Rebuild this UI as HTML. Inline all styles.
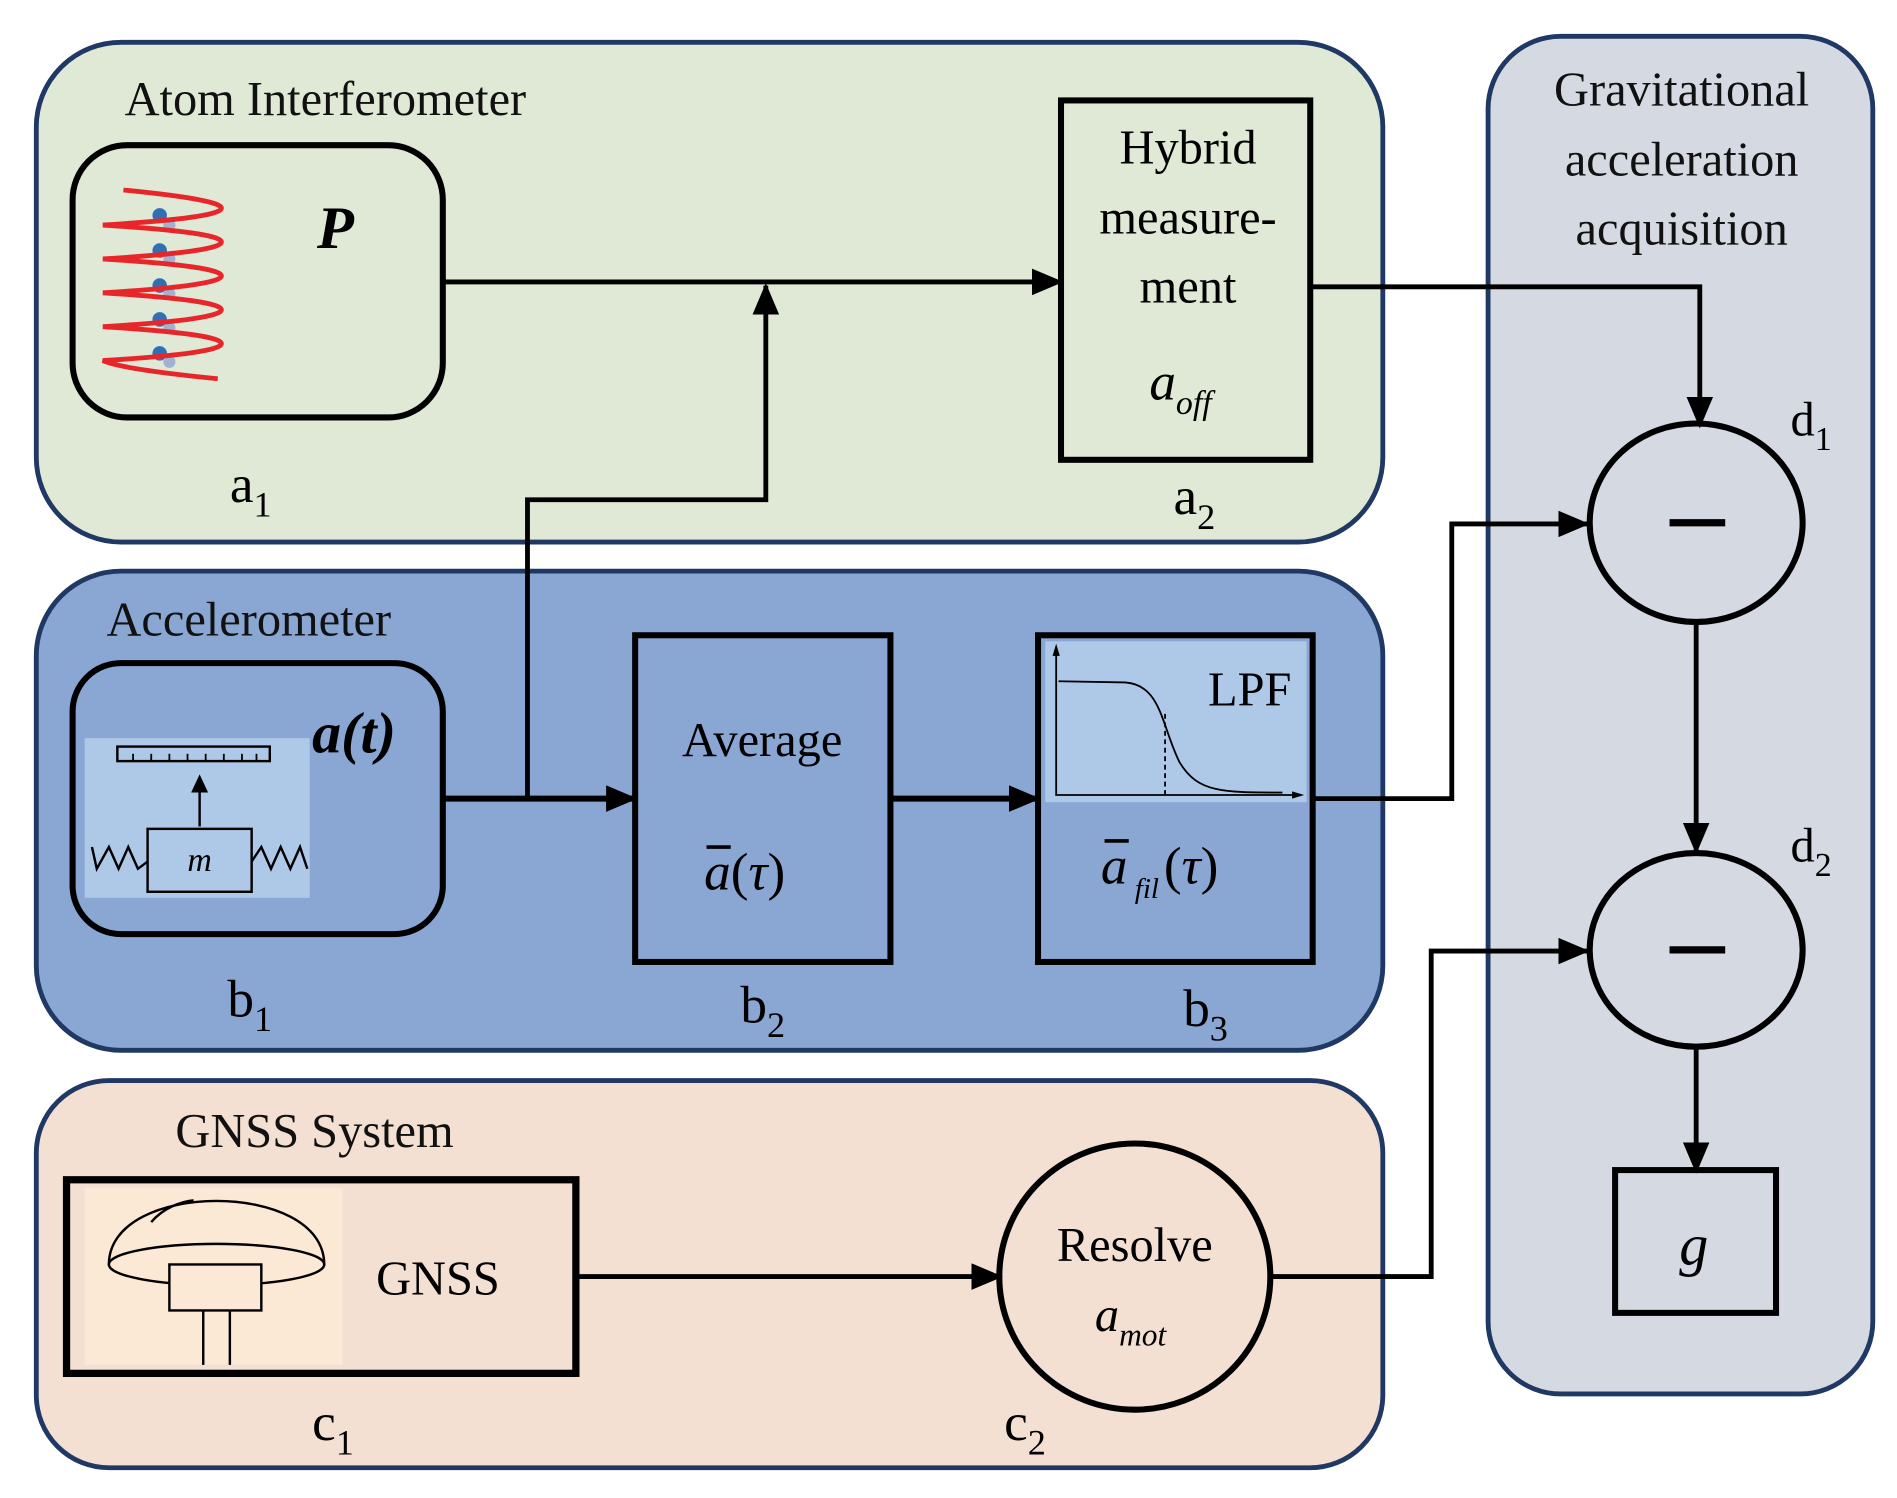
<!DOCTYPE html>
<html><head><meta charset="utf-8"><style>html,body{margin:0;padding:0;background:#fff}svg{display:block}svg text{font-family:"Liberation Serif","Times New Roman","DejaVu Serif",serif}</style></head>
<body>
<svg width="1897" height="1498" viewBox="0 0 1568 1238" preserveAspectRatio="none" xmlns="http://www.w3.org/2000/svg" font-family="'Liberation Serif','DejaVu Serif',serif">
<defs>
<marker id="ab" markerWidth="26" markerHeight="22" refX="24" refY="11" orient="auto" markerUnits="userSpaceOnUse" viewBox="0 0 26 22">
<path d="M0,0 L26,11 L0,22 z" fill="#000"/></marker>
</defs>
<rect x="30" y="35" width="1113" height="413" rx="70" fill="#dfe9d6" stroke="#1f3864" stroke-width="4"/>
<rect x="30" y="472" width="1113" height="396" rx="70" fill="#8aa6d3" stroke="#1f3864" stroke-width="4"/>
<rect x="30" y="893" width="1113" height="320" rx="60" fill="#f4e0d2" stroke="#1f3864" stroke-width="4"/>
<rect x="1230" y="30" width="318" height="1122" rx="60" fill="#d5dae2" stroke="#1f3864" stroke-width="4"/>

<g font-size="40" fill="#111">
<text x="103" y="95">Atom Interferometer</text>
<text x="88" y="525">Accelerometer</text>
<text x="145" y="948">GNSS System</text>
<text x="1390" y="87" text-anchor="middle">Gravitational</text>
<text x="1390" y="145" text-anchor="middle">acceleration</text>
<text x="1390" y="202" text-anchor="middle">acquisition</text>
</g>

<rect x="60" y="120" width="306" height="225" rx="45" fill="none" stroke="#000" stroke-width="5"/>
<g fill="#2f6fb5"><circle cx="132" cy="178" r="6"/><circle cx="132" cy="207" r="6"/><circle cx="132" cy="236" r="6"/><circle cx="132" cy="264" r="6"/><circle cx="132" cy="292" r="6"/></g>
<g fill="#9fb2cf"><circle cx="140" cy="186" r="5"/><circle cx="140" cy="214" r="5"/><circle cx="140" cy="243" r="5"/><circle cx="140" cy="271" r="5"/><circle cx="140" cy="299" r="5"/></g>
<path d="M102,157 Q183,165 183,172 Q183,180 85,186 Q183,192 183,200 Q183,208 85,214 Q183,220 183,228 Q183,236 85,242 Q183,248 183,256 Q183,264 85,270 Q183,276 183,284 Q183,292 85,298 Q100,305 180,313" fill="none" stroke="#e8262a" stroke-width="4"/>
<text x="262" y="205" font-size="50" font-weight="bold" font-style="italic">P</text>
<text x="190" y="415" font-size="44">a<tspan font-size="30" dy="12">1</tspan></text>

<rect x="877" y="83" width="206" height="297" fill="none" stroke="#000" stroke-width="5"/>
<g font-size="40" text-anchor="middle"><text x="982" y="135">Hybrid</text><text x="982" y="193">measure-</text><text x="982" y="250">ment</text></g>
<text x="950" y="330" font-size="44" font-style="italic">a<tspan font-size="28" dy="12">off</tspan></text>
<text x="970" y="425" font-size="44">a<tspan font-size="30" dy="12">2</tspan></text>

<line x1="366" y1="233" x2="877" y2="233" stroke="#000" stroke-width="4" marker-end="url(#ab)"/>
<polyline points="436,660 436,413 633,413 633,236" fill="none" stroke="#000" stroke-width="4" marker-end="url(#ab)"/>
<polyline points="1083,237 1405,237 1405,352" fill="none" stroke="#000" stroke-width="4" marker-end="url(#ab)"/>

<rect x="60" y="548" width="306" height="224" rx="40" fill="none" stroke="#000" stroke-width="5"/>
<rect x="70" y="610" width="186" height="132" fill="#aec8e8"/>
<rect x="97" y="617" width="126" height="12" fill="none" stroke="#000" stroke-width="2"/>
<g stroke="#000" stroke-width="1.5"><line x1="110" y1="623" x2="110" y2="629"/><line x1="125" y1="623" x2="125" y2="629"/><line x1="140" y1="623" x2="140" y2="629"/><line x1="155" y1="623" x2="155" y2="629"/><line x1="170" y1="623" x2="170" y2="629"/><line x1="185" y1="623" x2="185" y2="629"/><line x1="200" y1="623" x2="200" y2="629"/><line x1="212" y1="623" x2="212" y2="629"/></g>
<line x1="165" y1="683" x2="165" y2="645" stroke="#000" stroke-width="2"/>
<path d="M158,655 L165,640 L172,655 z"/>
<rect x="122" y="685" width="86" height="52" fill="none" stroke="#000" stroke-width="2"/>
<text x="165" y="720" font-size="28" font-style="italic" text-anchor="middle">m</text>
<polyline points="76,700 80,718 90,700 98,718 106,700 114,718 122,712" fill="none" stroke="#000" stroke-width="2"/>
<polyline points="208,712 216,700 224,718 232,700 240,718 248,700 254,718" fill="none" stroke="#000" stroke-width="2"/>
<text x="258" y="622" font-size="48" font-weight="bold" font-style="italic">a(t)</text>
<text x="188" y="840" font-size="44">b<tspan font-size="30" dy="12">1</tspan></text>

<rect x="525" y="525" width="211" height="270" fill="none" stroke="#000" stroke-width="5"/>
<text x="630" y="625" font-size="40" text-anchor="middle">Average</text>
<text x="582" y="735" font-size="44"><tspan font-style="italic">a</tspan>(<tspan font-style="italic">τ</tspan>)</text>
<line x1="584" y1="700" x2="604" y2="700" stroke="#000" stroke-width="3"/>
<text x="612" y="845" font-size="44">b<tspan font-size="30" dy="12">2</tspan></text>

<rect x="864" y="530" width="216" height="133" fill="#aec8e8"/>
<rect x="858" y="525" width="227" height="270" fill="none" stroke="#000" stroke-width="5"/>
<polyline points="873,535 873,657 1075,657" fill="none" stroke="#000" stroke-width="1.5"/>
<path d="M873,532 L870,542 L876,542 z"/><path d="M1078,657 L1068,654 L1068,660 z"/>
<path d="M875,563 L930,564 C960,566 960,600 975,630 C990,655 1010,655 1060,655" fill="none" stroke="#000" stroke-width="1.5"/>
<line x1="963" y1="590" x2="963" y2="657" stroke="#000" stroke-width="1.5" stroke-dasharray="4,3"/>
<text x="1033" y="583" font-size="40" text-anchor="middle">LPF</text>
<text x="910" y="730" font-size="44" font-style="italic">a</text>
<line x1="913" y1="695" x2="933" y2="695" stroke="#000" stroke-width="3"/>
<text x="938" y="742" font-size="24" font-style="italic">fil</text>
<text x="962" y="730" font-size="44">(<tspan font-style="italic">τ</tspan>)</text>
<text x="978" y="848" font-size="44">b<tspan font-size="30" dy="12">3</tspan></text>

<line x1="366" y1="660" x2="525" y2="660" stroke="#000" stroke-width="5" marker-end="url(#ab)"/>
<line x1="736" y1="660" x2="858" y2="660" stroke="#000" stroke-width="5" marker-end="url(#ab)"/>
<polyline points="1085,660 1200,660 1200,433 1312,433" fill="none" stroke="#000" stroke-width="4" marker-end="url(#ab)"/>

<rect x="70" y="982" width="213" height="146" fill="#fbe9d6"/>
<rect x="55" y="975" width="421" height="160" fill="none" stroke="#000" stroke-width="6"/>
<path d="M90,1045 C90,975 268,975 268,1045 z" fill="none" stroke="#000" stroke-width="2"/>
<ellipse cx="179" cy="1045" rx="89" ry="17" fill="#fbe9d6" stroke="#000" stroke-width="2"/>
<path d="M125,1010 C135,998 150,993 160,992" fill="none" stroke="#000" stroke-width="2"/>
<rect x="140" y="1045" width="76" height="38" fill="#fbe9d6" stroke="#000" stroke-width="2"/>
<line x1="168" y1="1083" x2="168" y2="1128" stroke="#000" stroke-width="2"/>
<line x1="190" y1="1083" x2="190" y2="1128" stroke="#000" stroke-width="2"/>
<text x="362" y="1070" font-size="40" text-anchor="middle">GNSS</text>
<text x="258" y="1190" font-size="44">c<tspan font-size="30" dy="12">1</tspan></text>

<ellipse cx="938" cy="1055" rx="112" ry="110" fill="none" stroke="#000" stroke-width="5"/>
<text x="938" y="1042" font-size="40" text-anchor="middle">Resolve</text>
<text x="905" y="1100" font-size="40" font-style="italic">a<tspan font-size="26" dy="12">mot</tspan></text>
<text x="830" y="1190" font-size="44">c<tspan font-size="30" dy="12">2</tspan></text>
<line x1="476" y1="1055" x2="827" y2="1055" stroke="#000" stroke-width="4" marker-end="url(#ab)"/>
<polyline points="1050,1055 1183,1055 1183,786 1312,786" fill="none" stroke="#000" stroke-width="4" marker-end="url(#ab)"/>

<ellipse cx="1402" cy="432" rx="88" ry="82" fill="none" stroke="#000" stroke-width="5"/>
<line x1="1380" y1="432" x2="1426" y2="432" stroke="#000" stroke-width="6"/>
<text x="1480" y="360" font-size="40">d<tspan font-size="28" dy="12">1</tspan></text>
<line x1="1402" y1="514" x2="1402" y2="704" stroke="#000" stroke-width="4" marker-end="url(#ab)"/>
<ellipse cx="1402" cy="785" rx="88" ry="80" fill="none" stroke="#000" stroke-width="5"/>
<line x1="1380" y1="785" x2="1426" y2="785" stroke="#000" stroke-width="6"/>
<text x="1480" y="712" font-size="40">d<tspan font-size="28" dy="12">2</tspan></text>
<line x1="1402" y1="865" x2="1402" y2="968" stroke="#000" stroke-width="4" marker-end="url(#ab)"/>
<rect x="1335" y="967" width="133" height="118" fill="none" stroke="#000" stroke-width="5"/>
<text x="1400" y="1045" font-size="48" font-style="italic" text-anchor="middle">g</text>
</svg>
</body></html>
